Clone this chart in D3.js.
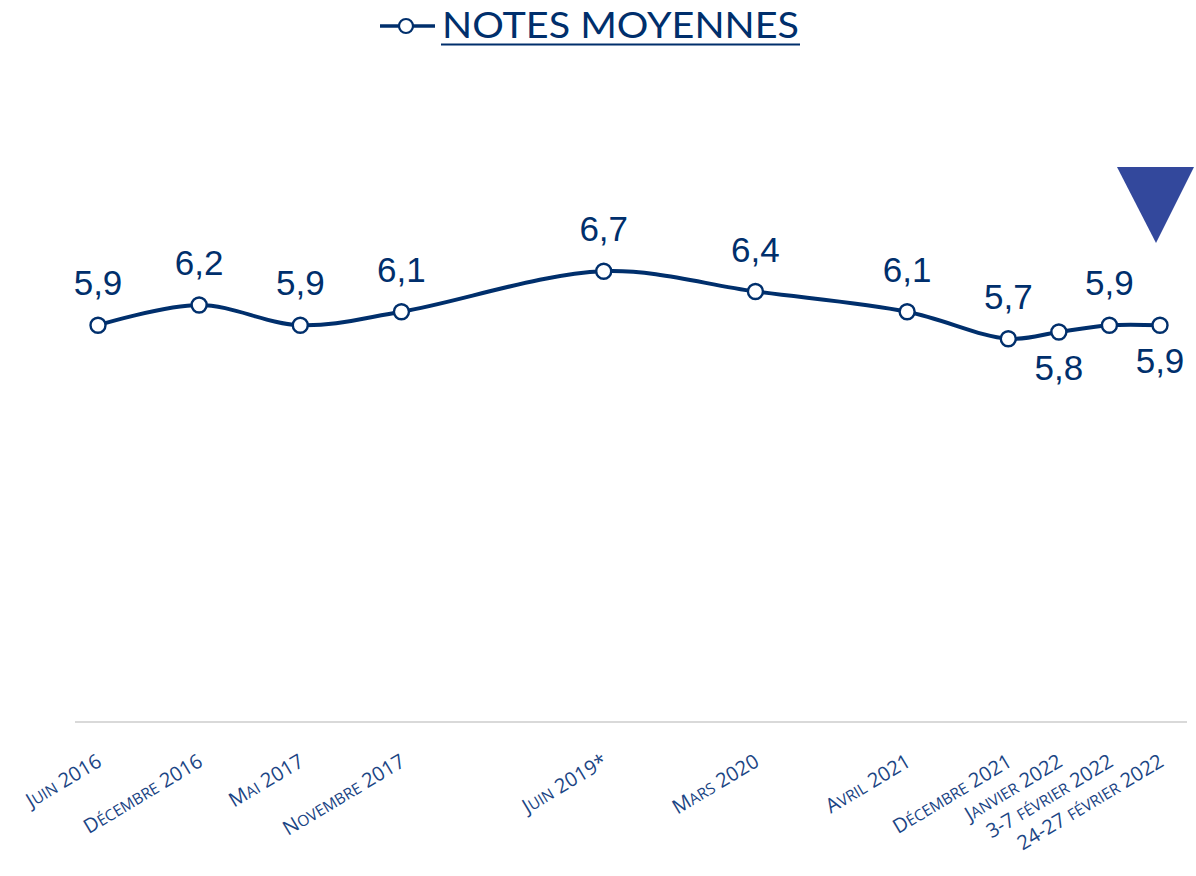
<!DOCTYPE html>
<html>
<head>
<meta charset="utf-8">
<script src="https://cdn.jsdelivr.net/npm/d3@7"></script>
<style>
    body { margin: 0; background: #fff; }
    svg { display: block; }
</style>
</head>
<body>
<div id="chart"></div>
<script>
const periods = ["Juin 2016", "Décembre 2016", "Mai 2017", "Novembre 2017", "Juin 2019*", "Mars 2020",
    "Avril 2021", "Décembre 2021", "Janvier 2022", "3-7 février 2022", "24-27 février 2022"];
// slot of each period on the category axis (gaps kept as in the picture)
const slots = [0, 2, 4, 6, 10, 13, 16, 18, 19, 20, 21];
const notes = [5.9, 6.2, 5.9, 6.1, 6.7, 6.4, 6.1, 5.7, 5.8, 5.9, 5.9];
// labels drawn under the point instead of above
const labelBelow = [false, false, false, false, false, false, false, false, true, false, true];
const seriesName = "NOTES MOYENNES";

const NAVY = "#002f6c";
const AXIS_TEXT = "#1b4584";

// Splits a label into runs so lowercase letters can be shown as small caps.
function smallCapsRuns(label) {
    var runs = [];
    for (var i = 0; i < label.length; i++) {
        var ch = label[i];
        var small = ch !== ch.toUpperCase();
        if (runs.length && runs[runs.length - 1].small === small) {
            runs[runs.length - 1].text += ch.toUpperCase();
        } else {
            runs.push({text: ch.toUpperCase(), small: small});
        }
    }
    return runs;
}

function drawChart() {
    var width = 1196, height = 876;

    var svg = d3.select("#chart").append("svg")
        .attr("width", width)
        .attr("height", height);

    var x = d3.scaleLinear().domain([0, 21]).range([98, 1160]);
    var y = d3.scaleLinear().domain([0, 10]).range([723.5, 48.5]);

    var data = periods.map(function (p, i) {
        return {period: p, slot: slots[i], value: notes[i], below: labelBelow[i]};
    });

    // baseline axis
    svg.append("line")
        .attr("x1", 75).attr("x2", 1187)
        .attr("y1", 722).attr("y2", 722)
        .attr("stroke", "#d9d9d9")
        .attr("stroke-width", 2);

    // category labels, rotated
    var labels = svg.append("g").selectAll("text")
        .data(data)
        .enter().append("text")
        .attr("transform", function (d) {
            return "translate(" + (x(d.slot) + 5) + "," + 765 + ") rotate(-31)";
        })
        .attr("text-anchor", "end")
        .attr("font-family", "'Open Sans', sans-serif")
        .attr("font-size", "20px")
        .attr("fill", AXIS_TEXT);

    labels.selectAll("tspan")
        .data(function (d) { return smallCapsRuns(d.period); })
        .enter().append("tspan")
        .attr("font-size", function (r) { return r.small ? "15.5px" : "20px"; })
        .text(function (r) { return r.text; });

    var line = d3.line()
        .x(function (d) { return x(d.slot); })
        .y(function (d) { return y(d.value); })
        .curve(d3.curveCatmullRom.alpha(0.5));

    svg.append("path")
        .datum(data)
        .attr("d", line)
        .attr("fill", "none")
        .attr("stroke", NAVY)
        .attr("stroke-width", 4);

    svg.append("g").selectAll("circle")
        .data(data)
        .enter().append("circle")
        .attr("cx", function (d) { return x(d.slot); })
        .attr("cy", function (d) { return y(d.value); })
        .attr("r", 7.5)
        .attr("fill", "#fff")
        .attr("stroke", NAVY)
        .attr("stroke-width", 2.4);

    svg.append("g").selectAll("text")
        .data(data)
        .enter().append("text")
        .attr("x", function (d) { return x(d.slot); })
        .attr("y", function (d) { return y(d.value) + (d.below ? 48 : -30); })
        .attr("text-anchor", "middle")
        .attr("font-family", "'Liberation Sans', Arial, sans-serif")
        .attr("font-size", "35px")
        .attr("fill", NAVY)
        .text(function (d) { return d3.format(".1f")(d.value).replace(".", ","); });

    // down arrow above the last period
    var last = data[data.length - 1];
    var cx = x(last.slot) - 4;
    var tri = d3.path();
    tri.moveTo(cx - 39, 167);
    tri.lineTo(cx + 38, 167);
    tri.lineTo(cx, 243);
    tri.closePath();
    svg.append("path")
        .attr("d", tri.toString())
        .attr("fill", "#33489c");

    // legend / title
    var legend = svg.append("g");
    legend.append("line")
        .attr("x1", 380).attr("x2", 435)
        .attr("y1", 26).attr("y2", 26)
        .attr("stroke", NAVY)
        .attr("stroke-width", 3.5);
    legend.append("circle")
        .attr("cx", 406).attr("cy", 26).attr("r", 7)
        .attr("fill", "#fff")
        .attr("stroke", NAVY)
        .attr("stroke-width", 2.2);
    legend.append("text")
        .attr("x", 442).attr("y", 38)
        .attr("font-family", "Lato, 'Open Sans', sans-serif")
        .attr("font-size", "37px")
        .attr("textLength", 357)
        .attr("lengthAdjust", "spacingAndGlyphs")
        .attr("fill", NAVY)
        .text(seriesName);
    legend.append("line")
        .attr("x1", 441).attr("x2", 800)
        .attr("y1", 44.5).attr("y2", 44.5)
        .attr("stroke", NAVY)
        .attr("stroke-width", 2);
}

drawChart();
</script>
</body>
</html>
